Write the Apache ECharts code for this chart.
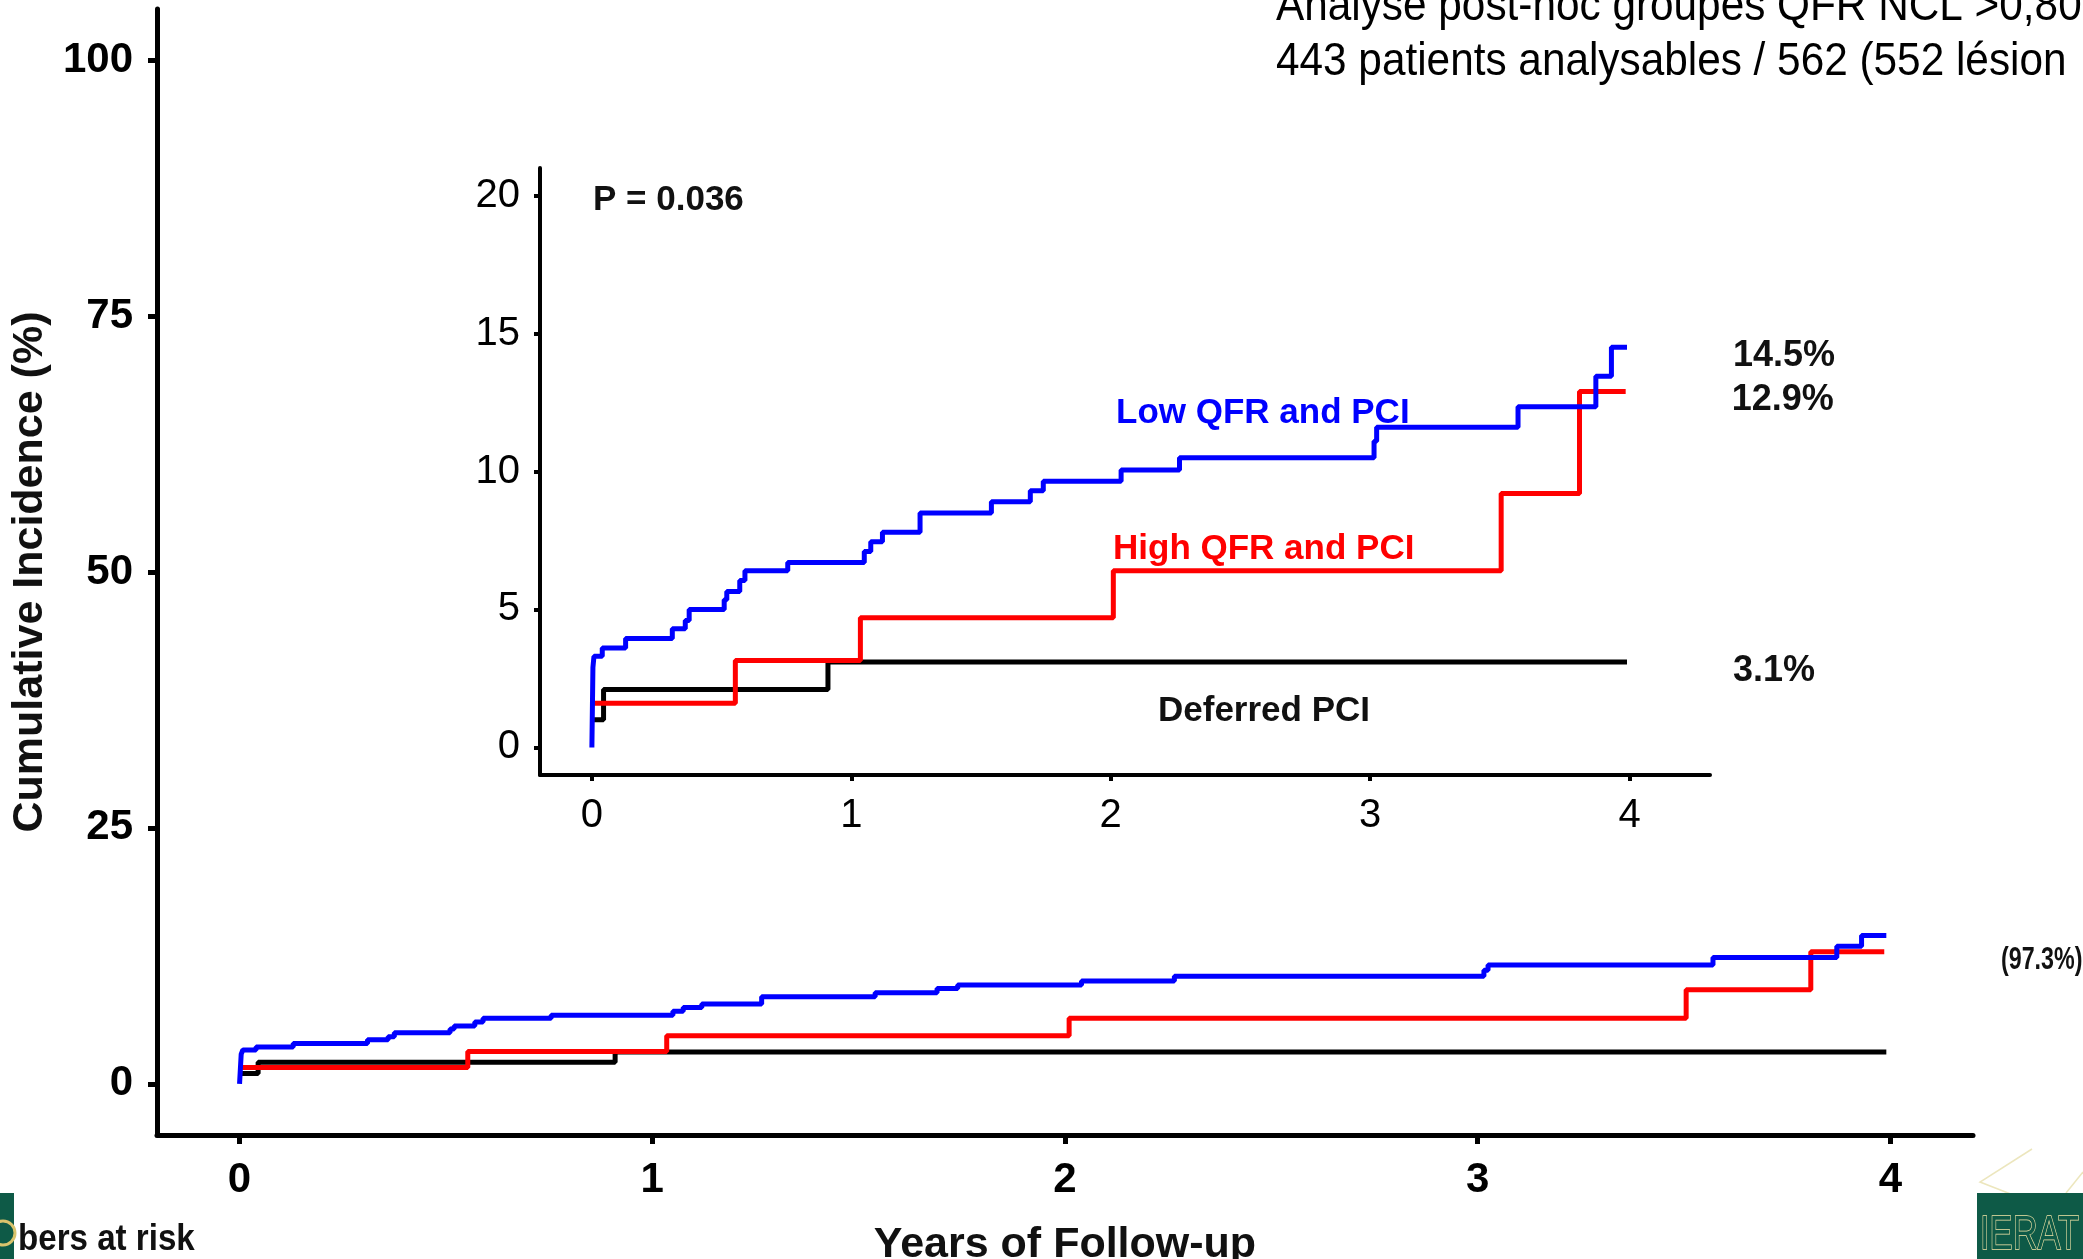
<!DOCTYPE html>
<html>
<head>
<meta charset="utf-8">
<script src="https://cdn.jsdelivr.net/npm/echarts@6/dist/echarts.min.js"></script>
<style>
  html, body { margin: 0; padding: 0; background: #fff; }
  #chart { width: 2083px; height: 1259px; }
</style>
</head>
<body>
<div id="chart"></div>
<script>
// ---- data (years of follow-up, cumulative incidence %) ----
const xTicks = [0, 1, 2, 3, 4];
const mainYTicks = [0, 25, 50, 75, 100];
const insetYTicks = [0, 5, 10, 15, 20];

const seriesNames = ['Deferred PCI', 'High QFR and PCI', 'Low QFR and PCI'];
const seriesColors = ['#000000', '#ff0000', '#0000ff'];

const deferredPci = [
  [0, 1.0], [0.045, 2.1], [0.91, 3.1], [3.99, 3.1]
];
const highQfrPci = [
  [0, 1.6], [0.553, 3.15], [1.035, 4.7], [2.01, 6.4], [3.505, 9.2], [3.807, 12.9], [3.985, 12.9]
];
const lowQfrPci = [
  [0, 0], [0.004, 2.9], [0.008, 3.3], [0.04, 3.6], [0.13, 3.95], [0.31, 4.3], [0.36, 4.6],
  [0.375, 5.0], [0.51, 5.35], [0.52, 5.65], [0.57, 6.05], [0.59, 6.4], [0.755, 6.7],
  [1.05, 7.1], [1.075, 7.45], [1.12, 7.8], [1.265, 8.5], [1.54, 8.9], [1.69, 9.3],
  [1.74, 9.65], [2.04, 10.05], [2.265, 10.5], [3.015, 11.1], [3.025, 11.6], [3.57, 12.35],
  [3.87, 13.45], [3.93, 14.5], [3.99, 14.5]
];
const allSeries = [deferredPci, highQfrPci, lowQfrPci];

const headerLines = [
  'Analyse post-hoc groupes QFR NCL >0,80',
  '443 patients analysables / 562 (552 lésion'
];

// ---- chart ----
const chart = echarts.init(document.getElementById('chart'), null, { renderer: 'canvas' });
const AR = 'Liberation Sans, Arial, sans-serif';

function axisCommon(width, tickLen, labelSize, labelWeight, margin, values) {
  return {
    type: 'value',
    splitLine: { show: false },
    axisLine: { show: true, onZero: false, lineStyle: { color: '#000', width: width } },
    axisTick: { show: true, length: tickLen, customValues: values, lineStyle: { color: '#000', width: width } },
    axisLabel: {
      show: true, customValues: values, margin: margin,
      fontFamily: AR, fontSize: labelSize, fontWeight: labelWeight, color: '#000'
    }
  };
}

const series = [];
allSeries.forEach((d, i) => {
  series.push({
    type: 'line', name: seriesNames[i], xAxisIndex: 0, yAxisIndex: 0,
    data: d, step: 'end', showSymbol: false, symbol: 'none', silent: true,
    lineStyle: { color: seriesColors[i], width: 5 }, z: 3 + i
  });
});
allSeries.forEach((d, i) => {
  series.push({
    type: 'line', name: seriesNames[i] + ' (inset)', xAxisIndex: 1, yAxisIndex: 1,
    data: d, step: 'end', showSymbol: false, symbol: 'none', silent: true,
    lineStyle: { color: seriesColors[i], width: 5 }, z: 3 + i,
    endLabel: {
      show: true, distance: 106, offset: [0, 9],
      fontFamily: AR, fontSize: 36, fontWeight: 'bold', color: '#111',
      formatter: p => p.value[1].toFixed(1) + '%'
    }
  });
});

function txt(x, y, text, size, color, weight, extra) {
  return Object.assign({
    type: 'text', x: x, y: y, silent: true, z: 50,
    style: {
      text: text, fontSize: size, fontFamily: AR, fontWeight: weight || 'bold',
      fill: color || '#111', align: 'left', verticalAlign: 'middle'
    }
  }, extra || {});
}

const option = {
  backgroundColor: '#ffffff',
  animation: false,
  grid: [
    { left: 157, top: 9, width: 1816, height: 1126, outerBoundsMode: 'none', containLabel: false },
    { left: 540, top: 168, width: 1170, height: 607, outerBoundsMode: 'none', containLabel: false }
  ],
  xAxis: [
    Object.assign(axisCommon(5, 9, 42, 'bold', 24, xTicks), {
      gridIndex: 0, min: -0.2, max: 4.2,
      name: 'Years of Follow-up', nameLocation: 'middle', nameGap: 89,
      nameTextStyle: { fontFamily: AR, fontSize: 43, fontWeight: 'bold', color: '#111' }
    }),
    Object.assign(axisCommon(4, 6, 40, 'normal', 21, xTicks), {
      gridIndex: 1, min: -0.2, max: 4.31
    })
  ],
  yAxis: [
    Object.assign(axisCommon(5, 9, 42, 'bold', 24, mainYTicks), {
      gridIndex: 0, min: -5, max: 105,
      name: 'Cumulative Incidence (%)', nameLocation: 'middle', nameGap: 98, nameRotate: 90,
      nameTextStyle: { fontFamily: AR, fontSize: 43, fontWeight: 'bold', color: '#111' }
    }),
    Object.assign(axisCommon(4, 6, 40, 'normal', 20, insetYTicks), {
      gridIndex: 1, min: -1, max: 21
    })
  ],
  series: series,
  graphic: [
    txt(1276, 7, headerLines[0], 46, '#000', 'normal', { scaleX: 0.92 }),
    txt(1276, 62, headerLines[1], 46, '#000', 'normal', { scaleX: 0.92 }),
    txt(593, 200, 'P = 0.036', 35, '#111', 'bold'),
    txt(1116, 413, 'Low QFR and PCI', 35, '#0000ff', 'bold'),
    txt(1113, 549, 'High QFR and PCI', 35, '#ff0000', 'bold'),
    txt(1158, 711, 'Deferred PCI', 35, '#111', 'bold'),
    txt(2001, 960, '(97.3%)', 31, '#111', 'bold', { scaleX: 0.75 }),
    txt(18, 1240, 'bers at risk', 36, '#111', 'bold', { scaleX: 0.92 }),
    // decorative logo fragments
    { type: 'rect', silent: true, z: 40, shape: { x: 0, y: 1193, width: 14, height: 66 }, style: { fill: '#0e5a47' } },
    { type: 'circle', silent: true, z: 41, shape: { cx: 3, cy: 1233, r: 12 }, style: { fill: 'none', stroke: '#d9c36c', lineWidth: 3 } },
    { type: 'rect', silent: true, z: 40, shape: { x: 1977, y: 1193, width: 106, height: 66 }, style: { fill: '#0e5a47' } },
    { type: 'text', x: 1980, y: 1236, silent: true, z: 51, scaleX: 0.72, style: {
      text: 'IERAT', fontSize: 48, fontFamily: AR, fontWeight: 'normal',
      fill: '#0e5a47', stroke: '#efe3a6', lineWidth: 1.5, align: 'left', verticalAlign: 'middle' } },
    { type: 'polyline', silent: true, z: 39, shape: { points: [[2032, 1149], [1980, 1182], [2026, 1200]] }, style: { stroke: '#ece6bd', lineWidth: 1.5, fill: 'none' } },
    { type: 'polyline', silent: true, z: 39, shape: { points: [[2066, 1193], [2083, 1172]] }, style: { stroke: '#ece6bd', lineWidth: 1.5, fill: 'none' } }
  ]
};
chart.setOption(option);
</script>
</body>
</html>
